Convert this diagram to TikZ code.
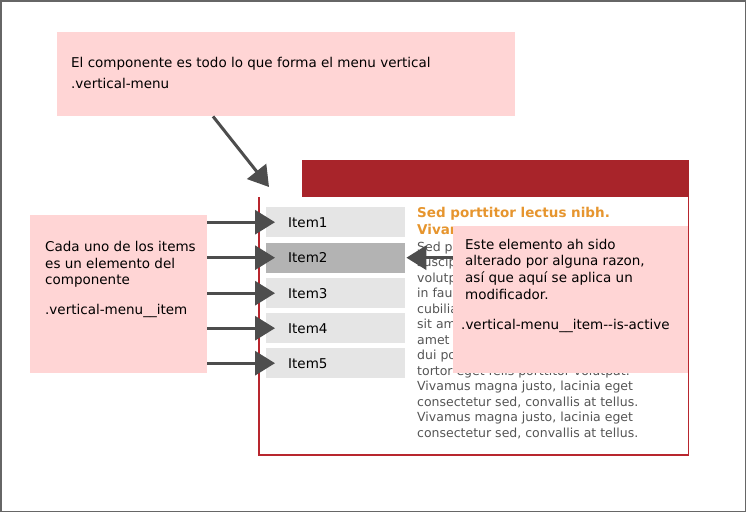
\documentclass[tikz,border=0pt]{standalone}
\usepackage{fontspec}
\setmainfont{DejaVu Sans}
\usetikzlibrary{arrows.meta}

\definecolor{notepink}{HTML}{FFD5D5}
\definecolor{menured}{HTML}{A8242A}
\definecolor{framered}{HTML}{B8262E}
\definecolor{itemgray}{HTML}{E5E5E5}
\definecolor{activegray}{HTML}{B3B3B3}
\definecolor{arrowgray}{HTML}{4D4D4D}
\definecolor{titleorange}{HTML}{E6952E}
\definecolor{bodygray}{HTML}{555555}
\definecolor{bordergray}{HTML}{666666}

\tikzset{
  notebox/.style={fill=notepink, inner sep=0pt, anchor=north west},
  notetext/.style={anchor=base west, inner sep=0pt, align=left, font=\fontsize{13.5}{16.7}\selectfont},
  menuitem/.style={anchor=north west, minimum height=30pt, text width=95pt, inner xsep=22pt, inner ysep=0pt, font=\fontsize{13.5}{16}\selectfont},
  pointer/.style={draw=arrowgray, line width=3pt, -{Triangle[length=20pt,width=24pt]}},
}

\begin{document}
\begin{tikzpicture}[x=1pt, y=-1pt]
\useasboundingbox (0,0) rectangle (746,512);
\draw[bordergray, line width=1.5pt] (0.75,0.75) rectangle (745.25,511.25);

% the vertical menu mockup (base anchors sit on the last line)
\draw[draw=framered, line width=1.3pt] (259,197) -- (259,455) -- (688.5,455) -- (688.5,196);
\node[fill=menured, anchor=north west, minimum width=387pt, minimum height=37pt, inner sep=0pt] (header) at (302,159.5) {};
\node[anchor=base west, inner sep=0pt, align=left, text=titleorange, font=\bfseries\fontsize{13.5}{17}\selectfont] (title) at (417,234) {Sed porttitor lectus nibh.\\Vivamus};
\node[anchor=base west, inner sep=0pt, align=left, text=bodygray, font=\fontsize{12.5}{15.5}\selectfont] (body) at (417,437) {Sed porttitor lectus nibh. Vivamus\\suscipit tortor eget felis porttitor\\volutpat. Vestibulum ante ipsum\\in faucibus orci luctus et ultrices\\cubilia Curae; Donec velit neque,\\sit amet aliquam vel, ullamcorper sit\\amet ligula. Curabitur arcu erat,\\dui posuere blandit. Vivamus suscipit\\tortor eget felis porttitor volutpat.\\Vivamus magna justo, lacinia eget\\consectetur sed, convallis at tellus.\\Vivamus magna justo, lacinia eget\\consectetur sed, convallis at tellus.};

\foreach \i/\y/\c in {1/207/itemgray, 2/242.5/activegray, 3/278/itemgray, 4/313/itemgray, 5/348/itemgray}
  \node[menuitem, fill=\c] (item\i) at (266,\y) {Item\i};

% notes
\node[notebox, minimum width=458pt, minimum height=84pt] (compbox) at (57,32) {};
\node[notetext] (comptext) at (71,88) {El componente es todo lo que forma el menu vertical\\[4pt].vertical-menu};

\node[notebox, minimum width=177pt, minimum height=158pt] (itembox) at (30,215) {};
\node[notetext] (itemtext) at (45,314) {Cada uno de los items\\es un elemento del\\componente\\[12.5pt].vertical-menu\_\_item};

\node[notebox, minimum width=235pt, minimum height=147pt] (activebox) at (453,226) {};
\node[notetext] (activetext) at (465,329) {Este elemento ah sido\\alterado por alguna razon,\\así que aquí se aplica un\\modificador.\\[13pt]\hspace*{-4pt}.vertical-menu\_\_item-{}-is-active};

% pointers
\coordinate (menutip) at (269,187);
\draw[pointer] ([xshift=156pt]compbox.south west) -- (menutip);
\foreach \i in {1,...,5}
  \draw[pointer] (itembox.east |- item\i.west) -- ([xshift=9pt]item\i.west);
\draw[pointer] (activebox.west |- item2.east) -- ([xshift=1pt]item2.east);
\end{tikzpicture}
\end{document}
